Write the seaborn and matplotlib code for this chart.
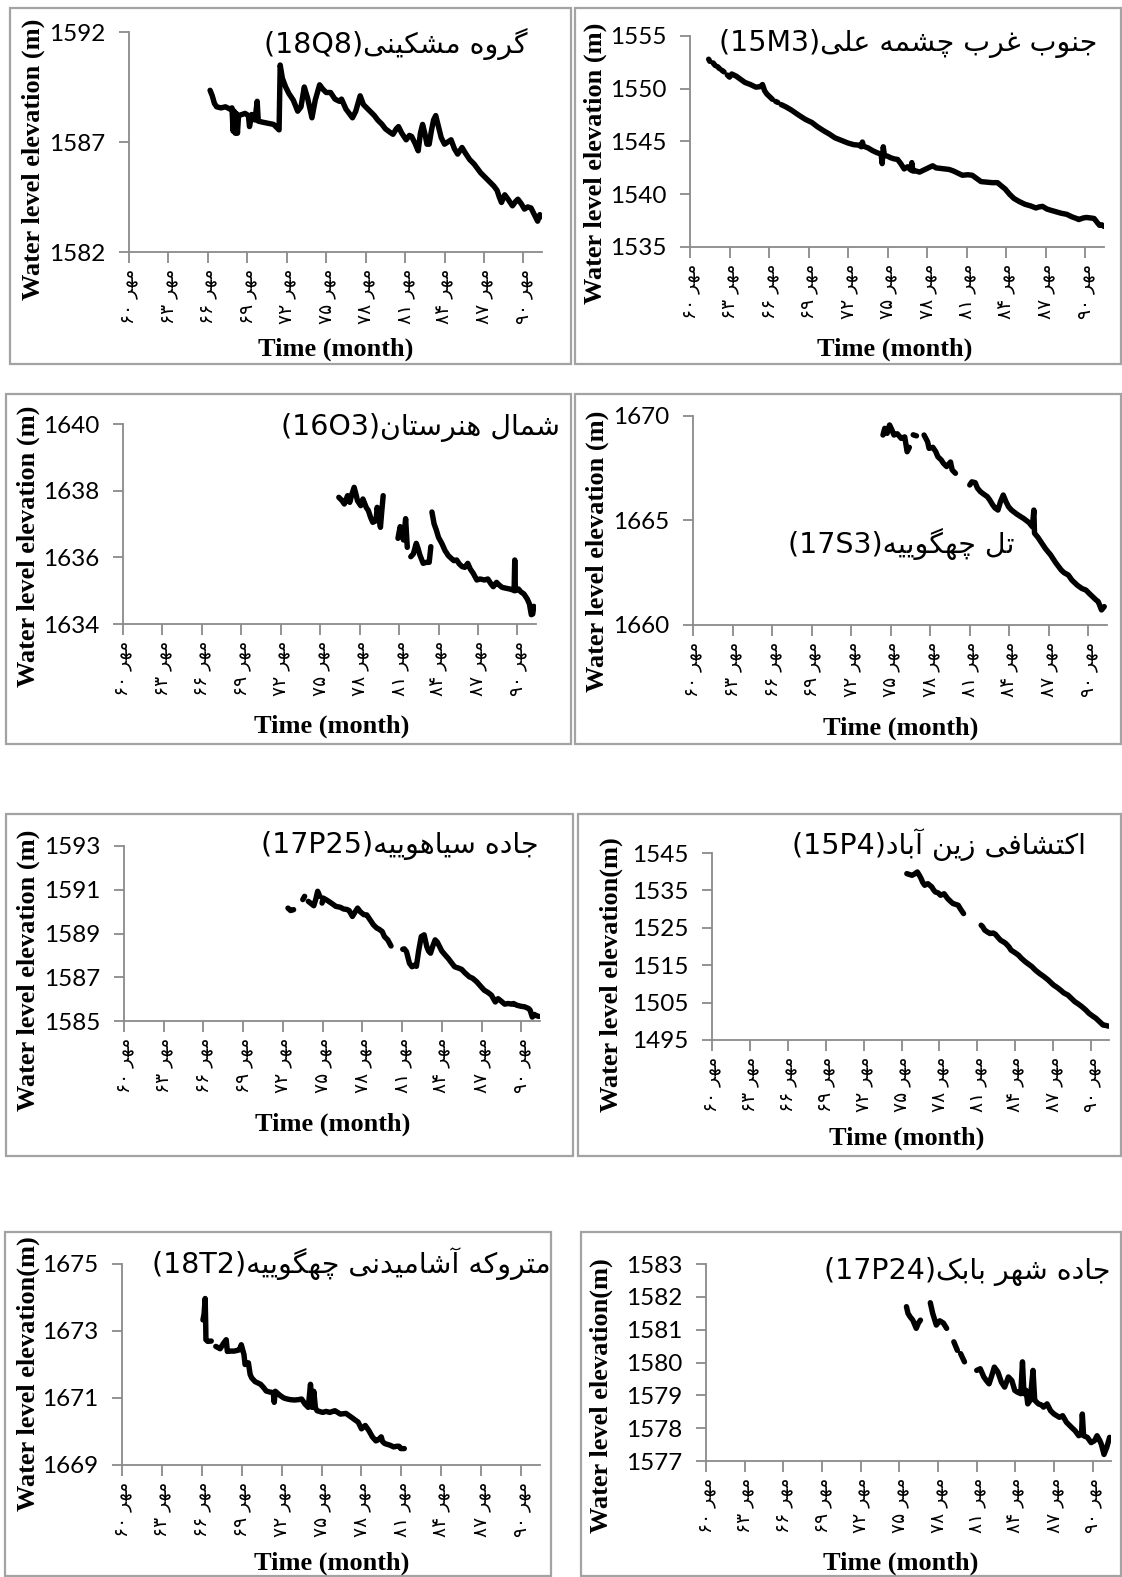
import numpy as np
import pandas as pd
import matplotlib
matplotlib.use("Agg")
import matplotlib.pyplot as plt
import seaborn as sns
from matplotlib.patches import Rectangle

# ---------------------------------------------------------------- data
# month index counted from Mehr 1360 (0) ; NaN breaks the line
tick_months = [0, 36, 72, 108, 144, 180, 216, 252, 288, 324, 360]
tick_years = [60, 63, 66, 69, 72, 75, 78, 81, 84, 87, 90]

names = ["گروه مشکینی", "جنوب غرب چشمه علی", "شمال هنرستان", "تل چهگوییه",
         "جاده سیاهوییه", "اکتشافی زین آباد", "متروکه آشامیدنی چهگوییه", "جاده شهر بابک"]
codes = ["18Q8", "15M3", "16O3", "17S3", "17P25", "15P4", "18T2", "17P24"]
ylabels = ["Water level elevation (m)", "Water level elevation (m)",
           "Water level elevation (m)", "Water level elevation (m)",
           "Water level elevation (m)", "Water level elevation(m)",
           "Water level elevation(m)", "Water level elevation(m)"]
yticks = [[1582, 1587, 1592], [1535, 1540, 1545, 1550, 1555], [1634, 1636, 1638, 1640],
          [1660, 1665, 1670], [1585, 1587, 1589, 1591, 1593], [1495, 1505, 1515, 1525, 1535, 1545],
          [1669, 1671, 1673, 1675], [1577, 1578, 1579, 1580, 1581, 1582, 1583]]
nan = np.nan

m_18Q8 = [74, 76, 78, 80, 84, 88, 92, 94, 95, 96, 97, 98, 99, 100, 103, 106, 109, 110, 112, 115, 117, 118,
          122, 127, 132, 136, 137, 138, 140, 143, 146, 150, 154, 157, 160, 163, 167, 170, 174, 177, 180,
          184, 188, 192, 194, 198, 201, 204, 207, 211, 214, 217, 221, 224, 227, 231, 234, 238, 241, 244,
          246, 249, 253, 256, 258, 261, 264, 266, 268, 270, 272, 274, 276, 278, 280, 282, 285, 288, 291,
          294, 297, 300, 304, 307, 311, 315, 318, 321, 325, 329, 333, 336, 338, 340, 343, 346, 350, 353,
          355, 358, 361, 364, 367, 370, 373, 375, 376]
v_18Q8 = [1589.35, 1589.1, 1588.75, 1588.6, 1588.55, 1588.6, 1588.5, 1588.55, 1587.5, 1588.4, 1587.4,
          1588.3, 1587.4, 1588.2, 1588.25, 1588.3, 1588.2, 1587.7, 1588.25, 1588.0, 1588.85, 1587.95,
          1587.9, 1587.85, 1587.8, 1587.6, 1587.55, 1590.5, 1589.9, 1589.5, 1589.2, 1588.9, 1588.4, 1588.6,
          1589.5, 1589.0, 1588.1, 1588.9, 1589.6, 1589.4, 1589.25, 1589.25, 1588.95, 1588.85, 1588.95,
          1588.5, 1588.3, 1588.1, 1588.4, 1589.1, 1588.7, 1588.55, 1588.35, 1588.2, 1588.0, 1587.8, 1587.6,
          1587.45, 1587.35, 1587.6, 1587.7, 1587.4, 1587.1, 1587.3, 1587.25, 1586.95, 1586.6, 1587.4,
          1587.8, 1587.4, 1586.9, 1586.9, 1587.5, 1588.0, 1588.2, 1587.8, 1587.2, 1586.9, 1587.0, 1587.1,
          1586.7, 1586.45, 1586.75, 1586.5, 1586.2, 1586.0, 1585.8, 1585.6, 1585.4, 1585.2, 1585.0, 1584.8,
          1584.5, 1584.25, 1584.6, 1584.4, 1584.1, 1584.3, 1584.4, 1584.2, 1583.95, 1584.05, 1584.0,
          1583.7, 1583.4, 1583.7, 1583.6]

m_15M3 = [17, 18, 19.5, 21, 23, 24, 25, 27, 28, 29, 31, 32.5, 34, 36, 38, 42, 46, 50, 55, 60, 64, 66,
          68, 70, 73, 75, 76.5, 78, 80, 81.5, 83, 87, 92, 99, 105, 111, 116, 122, 127, 132, 138, 144,
          149, 154, 156, 157, 158, 162, 166, 170, 174, 175, 176, 177, 180, 183, 186, 189, 192, 195, 198,
          201, 202, 203, 206, 209, 212, 215, 218, 221, 224, 228, 232, 236, 240, 244, 248, 253, 257, 261,
          265, 270, 275, 280, 284, 287, 291, 295, 300, 305, 310, 315, 318, 321, 325, 328, 333, 338, 343,
          348, 352, 354, 358, 361, 365, 368, 371, 373, 375, 377]
v_15M3 = [1552.8, 1552.6, nan, 1552.45, 1552.2, nan, 1552.1, 1551.9, nan, 1551.75, 1551.6, nan, 1551.3,
          1551.1, 1551.4, 1551.2, 1550.9, 1550.6, 1550.4, 1550.15, 1550.2, 1550.4, 1549.8, 1549.5,
          1549.2, 1549.0, nan, 1548.8, 1548.7, nan, 1548.5, 1548.3, 1548.0, 1547.5, 1547.1, 1546.8,
          1546.4, 1546.0, 1545.7, 1545.35, 1545.1, 1544.85, 1544.7, 1544.65, 1544.5, 1544.95, 1544.55,
          1544.4, 1544.15, 1543.95, 1543.8, 1542.9, 1544.5, 1543.7, 1543.6, 1543.45, 1543.35, 1543.3,
          1542.9, 1542.4, 1542.6, 1542.3, 1543.0, 1542.2, 1542.2, 1542.1, 1542.25, 1542.4, 1542.55,
          1542.7, 1542.5, 1542.45, 1542.4, 1542.35, 1542.2, 1542.0, 1541.8, 1541.85, 1541.8, 1541.5,
          1541.2, 1541.15, 1541.1, 1541.1, 1540.75, 1540.5, 1540.0, 1539.6, 1539.3, 1539.05, 1538.9,
          1538.7, 1538.8, 1538.85, 1538.6, 1538.5, 1538.35, 1538.2, 1538.1, 1537.85, 1537.7, 1537.6,
          1537.75, 1537.8, 1537.75, 1537.7, 1537.3, 1537.05, 1537.1, 1536.95]

m_16O3 = [197, 200, 202, 205, 207, 209, 211, 213, 214, 217, 219, 222, 224, 226, 228, 231, 232, 233, 235,
          236, 237.5, 244, 251, 252, 253, 255, 256, 258, 259.5, 261, 262.7, 265, 267.7, 269, 271, 274, 277,
          279.5, 281, 281.5, 282, 284, 286, 288, 291, 294, 297, 299.6, 302, 304.6, 307, 309.7, 312, 314.7,
          317, 319.7, 323, 326, 330, 333, 336, 338, 341, 343, 346, 350, 353, 356, 357, 357.6, 358.2, 361,
          363, 366, 369, 371, 372.7, 374, 375]
v_16O3 = [1637.8, 1637.7, 1637.6, 1637.85, 1637.65, 1637.9, 1638.1, 1637.85, 1637.7, 1637.55, 1637.75,
          1637.5, 1637.4, 1637.2, 1637.05, 1637.1, 1637.5, 1637.3, 1636.9, 1637.3, 1637.85, nan, 1636.57,
          1636.75, 1636.92, 1636.7, 1636.52, 1637.16, 1636.3, nan, 1636.02, 1636.1, 1636.42, 1636.3,
          1636.07, 1635.82, 1635.85, 1635.85, 1636.32, nan, 1637.36, 1637.0, 1636.82, 1636.6, 1636.42,
          1636.2, 1636.05, 1635.97, 1635.9, 1635.92, 1635.8, 1635.72, 1635.7, 1635.82, 1635.65, 1635.52,
          1635.32, 1635.35, 1635.32, 1635.35, 1635.2, 1635.12, 1635.25, 1635.18, 1635.1, 1635.07, 1635.05,
          1635.02, 1635.0, 1635.92, 1635.0, 1635.05, 1634.97, 1634.9, 1634.75, 1634.6, 1634.28, 1634.3,
          1634.53]

m_17S3 = [173, 174.6, 176.8, 179, 181, 183, 186, 189.6, 192.8, 195, 197, 199, 200.5, 203.5, 206, 210.4,
          213.6, 215, 218.4, 221, 223, 226, 228, 231, 234.5, 236, 239, 245, 252, 254, 257, 259, 261.7, 265,
          268, 270, 273, 275, 277.7, 280, 282.5, 285, 287.3, 290, 292, 295, 298.5, 301, 303, 306, 309,
          310.4, 311, 314, 317.7, 321, 325.7, 330, 335.3, 338, 341.8, 345, 349.8, 354, 357.8, 361, 364, 367,
          369, 372, 374.5]
v_17S3 = [1669.09, 1669.41, 1669.17, 1669.57, 1669.35, 1669.09, 1669.15, 1668.93, 1669.0, 1668.29,
          1668.5, nan, 1669.1, 1669.05, nan, 1669.09, 1668.77, 1668.45, 1668.5, 1668.3, 1668.05, 1667.9,
          1667.74, 1667.58, 1667.8, 1667.42, 1667.26, nan, 1666.7, 1666.85, 1666.81, 1666.55, 1666.38,
          1666.25, 1666.14, 1666.0, 1665.74, 1665.6, 1665.5, 1665.9, 1666.22, 1665.9, 1665.66, 1665.5,
          1665.42, 1665.3, 1665.18, 1665.1, 1665.02, 1664.9, 1664.7, 1665.5, 1664.39, 1664.2, 1663.91,
          1663.65, 1663.35, 1663.0, 1662.63, 1662.5, 1662.39, 1662.15, 1661.91, 1661.75, 1661.67, 1661.5,
          1661.35, 1661.2, 1661.12, 1660.72, 1660.88]

m_17P25 = [148.6, 151, 153.7, 158, 162, 163.7, 165, 167, 170, 172, 174, 175.5, 177.5, 178.5, 179.5, 180.5,
           183, 185.5, 189, 192, 196, 199, 202, 204, 207, 209, 211.7, 214, 217.4, 220, 224, 226, 229, 231,
           234, 236, 239, 242, 248, 252.6, 254, 256, 258.7, 261, 263, 265, 267, 269.4, 272, 274.4, 276,
           277.8, 280, 282, 284, 286, 288, 291, 294, 297, 299.6, 303, 306, 309, 313, 316, 319.7, 323,
           326.4, 330, 333, 335, 336.5, 339, 342, 345, 348, 351.6, 353, 356, 360, 363, 366.7, 368, 370,
           372, 373.4, 376]
v_17P25 = [1590.16, 1590.05, 1590.09, nan, 1590.55, 1590.7, nan, 1590.47, 1590.35, 1590.27, 1590.6,
           1590.93, 1590.7, nan, 1590.39, 1590.62, 1590.55, 1590.47, 1590.35, 1590.24, 1590.2, 1590.12,
           1590.1, 1590.05, 1589.78, 1589.95, 1590.16, 1590.0, 1589.86, 1589.85, 1589.55, 1589.4, 1589.25,
           1589.2, 1589.09, 1588.86, 1588.71, 1588.43, nan, 1588.28, 1588.3, 1588.17, 1587.64, 1587.48,
           1587.55, 1587.5, 1588.2, 1588.86, 1588.94, 1588.4, 1588.2, 1588.1, 1588.45, 1588.71, 1588.6,
           1588.4, 1588.2, 1588.02, 1587.85, 1587.65, 1587.48, 1587.42, 1587.36, 1587.2, 1587.02, 1586.95,
           1586.79, 1586.6, 1586.41, 1586.3, 1586.18, 1586.0, 1585.87, 1586.02, 1585.9, 1585.77, 1585.8,
           1585.77, 1585.8, 1585.72, 1585.67, 1585.65, 1585.57, 1585.5, 1585.18, 1585.3, 1585.25, 1585.21]

m_15P4 = [185, 187, 190, 193, 195, 197, 198.6, 200, 202, 205, 208.7, 210, 212, 215, 217, 220.4, 222, 223.8,
          226, 228.8, 231, 233.8, 236, 238.9, 247, 255.6, 257, 259, 262, 264, 267, 269, 272, 274, 277, 279,
          282, 284, 288, 291, 294, 297.6, 301, 304, 307, 311, 315, 319.4, 322, 324.4, 328, 331, 334, 338,
          341, 344.6, 348, 351.3, 355, 358, 361, 364.7, 368, 371.4, 374, 376.5]
v_15P4 = [1539.48, 1539.3, 1539.04, 1539.5, 1539.93, 1539.0, 1538.15, 1537.2, 1536.37, 1536.8, 1535.93,
          1535.3, 1534.59, 1534.3, 1533.7, 1534.1, 1533.5, 1532.81, 1532.2, 1531.48, 1531.3, 1531.03, 1530.0,
          1528.8, nan, 1525.69, 1525.3, 1524.36, 1523.8, 1523.47, 1523.6, 1523.3, 1522.3, 1521.69, 1521.2,
          1520.8, 1519.9, 1519.02, 1518.3, 1517.69, 1516.8, 1515.9, 1515.2, 1514.57, 1513.7, 1512.79,
          1512.0, 1511.01, 1510.3, 1509.68, 1509.0, 1508.34, 1507.6, 1507.01, 1506.2, 1505.23, 1504.6,
          1503.9, 1503.0, 1502.12, 1501.5, 1500.78, 1499.9, 1499.0, 1498.9, 1498.7]

m_18T2 = [73, 74, 75, 75.5, 75.7, 77.3, 80.5, 82.5, 84.6, 88.5, 91.7, 94, 95, 98, 101, 104, 106, 107.6, 110,
          111, 114, 115.6, 117, 120, 125, 128, 130, 133, 136.4, 137.3, 138.3, 140, 142.8, 146, 149, 152,
          155.5, 159, 162, 165, 168, 170, 171.5, 173, 174.5, 176, 181, 184, 187.5, 190, 192, 197, 202,
          206.7, 210, 213, 216, 219.4, 222.6, 225.8, 229, 231, 233.8, 235, 237, 241.8, 245, 248, 249.8,
          251.4, 254.6]
v_18T2 = [1673.33, 1673.5, 1673.97, 1673.2, 1672.74, 1672.69, 1672.7, nan, 1672.54, 1672.47, 1672.64,
          1672.74, 1672.39, 1672.4, 1672.4, 1672.42, 1672.44, 1672.59, 1672.3, 1672.0, 1672.05, 1671.7,
          1671.6, 1671.49, 1671.41, 1671.3, 1671.21, 1671.18, 1671.16, 1670.87, 1671.2, 1671.15, 1671.07,
          1671.0, 1670.97, 1670.95, 1670.94, 1670.95, 1670.97, 1670.82, 1670.72, 1671.41, 1670.72, 1671.2,
          1670.7, 1670.62, 1670.57, 1670.6, 1670.57, 1670.6, 1670.62, 1670.52, 1670.54, 1670.43, 1670.35,
          1670.28, 1670.08, 1670.18, 1670.03, 1669.84, 1669.72, 1669.75, 1669.84, 1669.7, 1669.64, 1669.59,
          1669.54, 1669.56, 1669.56, 1669.49, 1669.49]

m_17P24 = [186.6, 188, 189.8, 192.5, 193.8, 195.7, 197.7, 199.6, 204, 208.8, 211, 214.4, 217.6, 221, 224,
           227, 230.7, 234, 235.5, 237, 240.6, 246, 252, 255.3, 258.6, 261, 263.5, 266, 268.4, 271.7, 275,
           278, 281.5, 284.7, 287.4, 289.7, 293, 294.6, 296, 298, 299.5, 301.8, 304.4, 306, 309.4, 312.6,
           314.2, 317.5, 320.8, 324, 329, 332, 335.5, 340.4, 343.6, 347, 349.6, 350.3, 351.5, 355, 358.5,
           361.7, 364, 366.6, 368, 370.5, 373, 375.7]
v_17P24 = [1581.7, 1581.5, 1581.4, 1581.29, 1581.19, 1581.04, 1581.2, 1581.29, nan, 1581.82, 1581.5,
           1581.14, 1581.27, 1581.2, 1581.04, nan, 1580.63, 1580.37, nan, 1580.27, 1580.02, nan, 1579.76,
           1579.81, 1579.56, 1579.45, 1579.35, 1579.6, 1579.86, 1579.71, 1579.4, 1579.25, 1579.56, 1579.45,
           1579.15, 1579.1, 1579.05, 1580.02, 1579.05, 1579.15, 1578.74, 1578.85, 1579.76, 1578.85, 1578.74,
           1578.7, 1578.64, 1578.74, 1578.53, 1578.43, 1578.33, 1578.38, 1578.18, 1578.02, 1577.92, 1577.77,
           1577.82, 1578.43, 1577.77, 1577.72, 1577.56, 1577.62, 1577.77, 1577.62, 1577.51, 1577.2, 1577.41,
           1577.72]

series_m = [m_18Q8, m_15M3, m_16O3, m_17S3, m_17P25, m_15P4, m_18T2, m_17P24]
series_v = [v_18Q8, v_15M3, v_16O3, v_17S3, v_17P25, v_15P4, v_18T2, v_17P24]

# ---------------------------------------------------------------- Persian shaping
AR_FORMS = {
    'ا': ('\uFE8D', '\uFE8E'), 'آ': ('\uFE81', '\uFE82'), 'د': ('\uFEA9', '\uFEAA'),
    'ر': ('\uFEAD', '\uFEAE'), 'ز': ('\uFEAF', '\uFEB0'), 'و': ('\uFEED', '\uFEEE'),
    'ب': ('\uFE8F', '\uFE90', '\uFE91', '\uFE92'), 'ت': ('\uFE95', '\uFE96', '\uFE97', '\uFE98'),
    'ج': ('\uFE9D', '\uFE9E', '\uFE9F', '\uFEA0'), 'چ': ('\uFB7A', '\uFB7B', '\uFB7C', '\uFB7D'),
    'س': ('\uFEB1', '\uFEB2', '\uFEB3', '\uFEB4'), 'ش': ('\uFEB5', '\uFEB6', '\uFEB7', '\uFEB8'),
    'ع': ('\uFEC9', '\uFECA', '\uFECB', '\uFECC'), 'غ': ('\uFECD', '\uFECE', '\uFECF', '\uFED0'),
    'ف': ('\uFED1', '\uFED2', '\uFED3', '\uFED4'), 'ک': ('\uFB8E', '\uFB8F', '\uFB90', '\uFB91'),
    'گ': ('\uFB92', '\uFB93', '\uFB94', '\uFB95'), 'ل': ('\uFEDD', '\uFEDE', '\uFEDF', '\uFEE0'),
    'م': ('\uFEE1', '\uFEE2', '\uFEE3', '\uFEE4'), 'ن': ('\uFEE5', '\uFEE6', '\uFEE7', '\uFEE8'),
    'ه': ('\uFEE9', '\uFEEA', '\uFEEB', '\uFEEC'), 'ی': ('\uFBFC', '\uFBFD', '\uFBFE', '\uFBFF'),
}


def shape_rtl(text):
    """Contextual letter forms, returned in left-to-right display order."""
    out = []
    for i, ch in enumerate(text):
        forms = AR_FORMS.get(ch)
        if forms is None:
            out.append(ch)
            continue
        prev = text[i - 1] if i > 0 else ''
        nxt = text[i + 1] if i + 1 < len(text) else ''
        jp = prev in AR_FORMS and len(AR_FORMS[prev]) == 4
        jn = len(forms) == 4 and nxt in AR_FORMS
        out.append(forms[3] if (jp and jn) else forms[1] if jp else forms[2] if jn else forms[0])
    return ''.join(out)[::-1]


FA_DIGITS = str.maketrans('0123456789', '۰۱۲۳۴۵۶۷۸۹')
month_name = shape_rtl('مهر')
xtick_labels = [str(y).translate(FA_DIGITS) + ' ' + month_name for y in tick_years]

# ---------------------------------------------------------------- layout (pixels)
W, H = 1122, 1577
# axes: left, right, top, bottom
rects = [(129, 542, 32, 252), (690, 1104, 36, 247), (123, 536, 424, 624), (693, 1107, 416, 625),
         (124, 540, 846, 1021), (712, 1109, 853, 1040), (122, 540, 1264, 1465), (706, 1111, 1264, 1461)]
boxes = [(10, 8, 571, 364), (575, 8, 1121, 364), (6, 394, 571, 744), (575, 394, 1121, 744),
         (6, 814, 573, 1156), (578, 814, 1121, 1156), (5, 1232, 551, 1576), (581, 1232, 1121, 1576)]
title_pos = [(528, 44), (1097, 44), (560, 427), (1015, 544), (539, 845), (1086, 845), (551, 1264), (1110, 1272)]
ylab_pos = [(33, 159), (595, 163), (28, 546), (597, 551), (28, 970), (611, 975), (28, 1374), (601, 1396)]
xlab_pos = [(336, 349), (895, 349), (332, 726), (901, 728), (333, 1124), (907, 1138), (332, 1563), (901, 1563)]

AXIS_GREY = '#8a8a8a'

sns.set_theme(style='white')
plt.rcParams['font.family'] = ['DejaVu Sans']

fig = plt.figure(figsize=(W / 100, H / 100), dpi=100)
fig.patch.set_facecolor('white')

for i in range(8):
    L, R, T, B = rects[i]
    ax = fig.add_axes([L / W, 1 - B / H, (R - L) / W, (B - T) / H])
    ax.set_facecolor('none')

    m = np.asarray(series_m[i], dtype=float)
    v = np.asarray(series_v[i], dtype=float)
    seg = np.cumsum(np.isnan(v))
    df = pd.DataFrame({'month': m, 'level': v, 'seg': seg}).dropna()
    sns.lineplot(data=df, x='month', y='level', units='seg', estimator=None, color='black',
                 linewidth=3.9, ax=ax, legend=False, solid_capstyle='round', solid_joinstyle='round')

    ax.set_xlim(0, 377)
    yt = yticks[i]
    ax.set_ylim(yt[0], yt[-1])
    ax.set_yticks(yt)
    ax.set_yticklabels([str(t) for t in yt], fontfamily='Lato', fontsize=17.5, color='black')
    ax.set_xticks(tick_months)
    ax.set_xticklabels(xtick_labels, rotation=90, fontfamily='DejaVu Sans', fontsize=13.5, color='black')
    ax.set_xlabel('')
    ax.set_ylabel('')
    for s in ('top', 'right'):
        ax.spines[s].set_visible(False)
    for s in ('left', 'bottom'):
        ax.spines[s].set_color(AXIS_GREY)
        ax.spines[s].set_linewidth(1.3)
    ax.tick_params(axis='x', direction='out', length=8, width=1.3, color=AXIS_GREY, pad=4, bottom=True)
    ax.tick_params(axis='y', direction='out', length=7, width=1.3, color=AXIS_GREY, pad=10, left=True)
    ax.grid(False)

    tx, ty = title_pos[i]
    fig.text(tx / W, 1 - ty / H, '(' + codes[i] + ')' + shape_rtl(names[i]), ha='right', va='center',
             fontsize=20.5, fontfamily='DejaVu Sans', color='black')
    yx, yy = ylab_pos[i]
    fig.text(yx / W, 1 - yy / H, ylabels[i], rotation=90, ha='center', va='center',
             fontsize=19, fontweight='bold', fontfamily='Liberation Serif', color='black')
    xx, xy = xlab_pos[i]
    fig.text(xx / W, 1 - xy / H, 'Time (month)', ha='center', va='center',
             fontsize=19, fontweight='bold', fontfamily='Liberation Serif', color='black')

    x0, y0, x1, y1 = boxes[i]
    fig.add_artist(Rectangle((x0 / W, 1 - y1 / H), (x1 - x0) / W, (y1 - y0) / H,
                             transform=fig.transFigure, fill=False, edgecolor='#a3a3a3', linewidth=1.6))

fig.savefig('out.png', dpi=100, facecolor='white')
